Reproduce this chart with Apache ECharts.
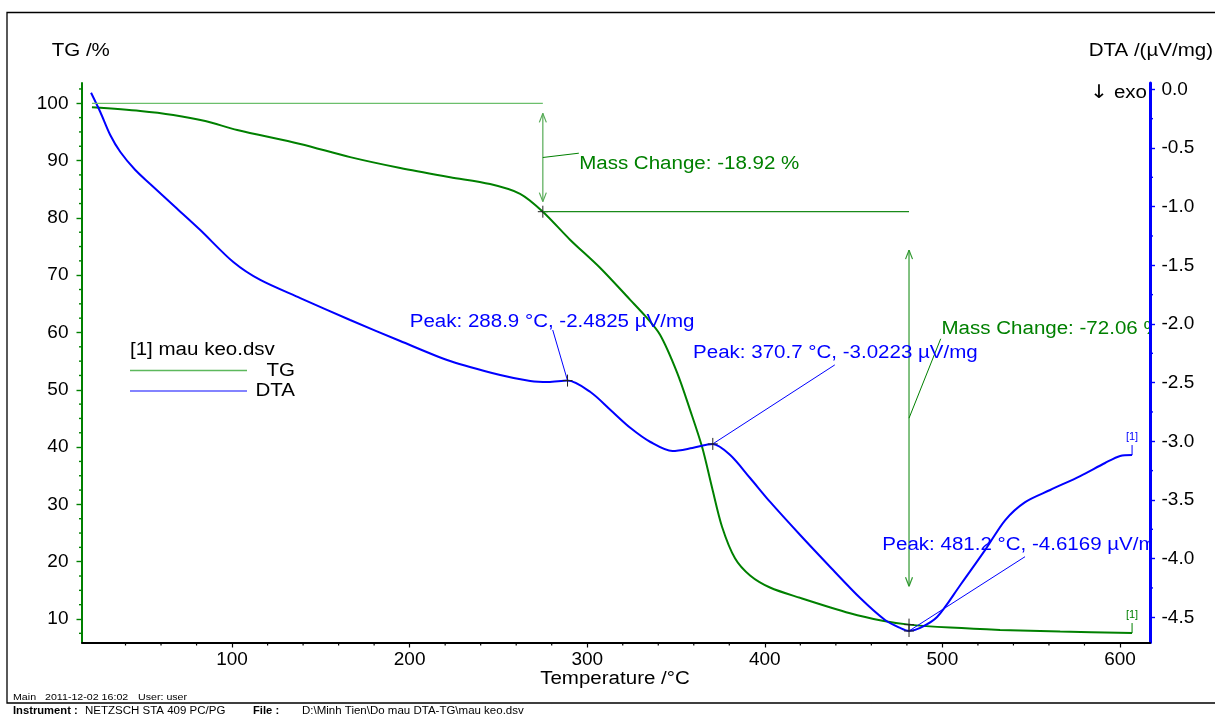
<!DOCTYPE html>
<html>
<head>
<meta charset="utf-8">
<script src="https://cdn.jsdelivr.net/npm/echarts@6/dist/echarts.min.js"></script>
<style>
  html, body { margin: 0; padding: 0; background: #fff; }
  #chart { width: 1215px; height: 715px; }
</style>
</head>
<body>
<div id="chart"></div>
<script>
// ---- Measurement: NETZSCH STA 409, sample "mau keo" ----

// Temperature axis (°C)
const tempTicks = [100, 200, 300, 400, 500, 600];
// TG axis (%)
const tgTicks = [10, 20, 30, 40, 50, 60, 70, 80, 90, 100];
// DTA axis (µV/mg)
const dtaTicks = [0.0, -0.5, -1.0, -1.5, -2.0, -2.5, -3.0, -3.5, -4.0, -4.5];

// TG curve: temperature (°C) and residual mass (%)
const tgTemp = [21.1, 48.3, 66.9, 84.9, 102.9, 138.4, 166.5, 194.7, 222.8, 245.3, 262.2, 275.0,
                290.3, 307.2, 324.2, 332.6, 341.0, 350.6, 357.9, 364.7, 370.3, 375.9, 383.2,
                391.7, 402.9, 419.8, 448.0, 466.3, 481.2, 504.4, 532.5, 566.3, 606.8];
const tgMass = [99.30, 98.66, 97.96, 96.90, 95.34, 92.90, 90.60, 88.70, 87.10, 85.90, 84.20, 81.08,
                76.20, 71.30, 65.70, 62.90, 59.60, 53.00, 46.50, 40.00, 32.90, 26.10, 20.60,
                17.60, 15.50, 13.70, 11.00, 9.70, 9.02, 8.50, 8.10, 7.80, 7.55];

// DTA curve: temperature (°C) and signal (µV/mg)
const dtaTemp = [20.6, 25.8, 31.4, 37.1, 45.5, 53.9, 68.0, 82.1, 100.7, 115.9, 138.4, 166.5,
                 194.7, 222.8, 251.0, 267.9, 278.0, 288.9, 301.8, 313.1, 324.4, 335.6, 348.0,
                 359.2, 370.7, 380.5, 391.7, 403.0, 419.9, 436.8, 453.7, 467.7, 476.2, 481.2,
                 487.5, 497.0, 510.1, 524.1, 535.4, 546.6, 560.7, 577.6, 591.6, 600.1, 606.8];
const dtaSignal = [-0.029, -0.193, -0.389, -0.534, -0.688, -0.807, -1.003, -1.199, -1.472, -1.625,
                   -1.779, -1.966, -2.145, -2.316, -2.435, -2.486, -2.495, -2.4825, -2.580, -2.733,
                   -2.887, -3.006, -3.083, -3.057, -3.0223, -3.117, -3.313, -3.517, -3.799, -4.071,
                   -4.336, -4.523, -4.591, -4.6169, -4.591, -4.498, -4.225, -3.926, -3.671, -3.518,
                   -3.415, -3.296, -3.185, -3.125, -3.117];

// DTA peak evaluations
const peakTemp = [288.9, 370.7, 481.2];
const peakSignal = [-2.4825, -3.0223, -4.6169];

// TG mass-change steps
const massStartLevel = 100.0;
const stepTemp = [275.0, 481.2];
const stepChange = [-18.92, -72.06];

// ---- styling / layout ----
const GREEN = '#008000';
const BLUE = '#0000ff';
const FONT = 'Liberation Sans, Arial, sans-serif';
const STRETCH = 1.14;

// label placement relative to the annotated point (px)
const peakLayout = [
  { leader: [-14.8, -50.6], label: [-157.8, -58.1] },
  { leader: [122, -79], label: [-19.7, -90.6] },
  { leader: [116, -74.3], label: [-26.7, -86] }
];
const stepLayout = [
  { leader: [36, -4.3], label: [36.3, 6.6], arrow: '#55aa55', levelLine: '#6cbf6c' },
  { leader: [31.7, -79.4], label: [32.5, -89.6], arrow: '#2f982f', levelLine: '#1a8a1a' }
];

function minorTicks(from, to, step, majorEvery) {
  const out = [];
  for (let k = Math.ceil(from / step); k * step <= to; k++) {
    if (k % majorEvery !== 0) out.push(+(k * step).toFixed(4));
  }
  return out;
}
const tempMinor = minorTicks(40, 600, 20, 5);
const tgMinor = minorTicks(6, 103, 2.5, 4);
const dtaMinor = minorTicks(-4.7, 0, 0.25, 2);

const X_MIN = 15.5, X_MAX = 616.9;
const TG_MIN = 5.9, TG_MAX = 103.54;
const DTA_MIN = -4.715, DTA_MAX = 0.054;

function seg(x1, y1, x2, y2, color, w) {
  return { type: 'line', shape: { x1, y1, x2, y2 }, style: { stroke: color, lineWidth: w || 1 } };
}
function cross(p) {
  return [seg(p[0] - 5, p[1], p[0] + 5, p[1], '#222', 1), seg(p[0], p[1] - 6, p[0], p[1] + 6, '#222', 1)];
}
function txt(x, y, text, color, size, align, stretch) {
  return {
    type: 'text', x, y, scaleX: stretch ? STRETCH : 1,
    style: { text, fill: color, fontSize: size, fontFamily: FONT, align: align || 'left', verticalAlign: 'middle' }
  };
}
function endMarker(p, color) {
  return [seg(p[0], p[1], p[0], p[1] - 10, color, 1), txt(p[0], p[1] - 18, '[1]', color, 11, 'center', false)];
}

function renderMassSteps(params, api) {
  const children = [];
  let level = massStartLevel;
  let prevT = tgTemp[0];
  stepTemp.forEach((t, i) => {
    const next = level + stepChange[i];
    const lay = stepLayout[i];
    const pStart = api.coord([prevT, level]);
    const pTop = api.coord([t, level]);
    const pBot = api.coord([t, next]);
    children.push(seg(pStart[0], pTop[1], pTop[0], pTop[1], lay.levelLine, 1.2));
    const inset = 0.093 * (pBot[1] - pTop[1]);
    const yA = pTop[1] + inset, yB = pBot[1] - inset, x = pTop[0];
    children.push(seg(x, yA, x, yB, lay.arrow, 1.2));
    children.push(seg(x, yA, x - 3.5, yA + 9, lay.arrow, 1.2), seg(x, yA, x + 3.5, yA + 9, lay.arrow, 1.2));
    children.push(seg(x, yB, x - 3.5, yB - 9, lay.arrow, 1.2), seg(x, yB, x + 3.5, yB - 9, lay.arrow, 1.2));
    const midY = (pTop[1] + pBot[1]) / 2;
    children.push(seg(x, midY, x + lay.leader[0], midY + lay.leader[1], GREEN, 1));
    children.push(txt(x + lay.label[0], midY + lay.label[1],
      'Mass Change: ' + stepChange[i].toFixed(2) + ' %', GREEN, 18, 'left', true));
    children.push(...cross(pBot));
    level = next;
    prevT = t;
  });
  const last = tgTemp.length - 1;
  children.push(...endMarker(api.coord([tgTemp[last], tgMass[last]]), GREEN));
  return { type: 'group', children };
}

function renderPeaks(params, api) {
  const children = [];
  peakTemp.forEach((t, i) => {
    const p = api.coord([t, peakSignal[i]]);
    const lay = peakLayout[i];
    children.push(seg(p[0], p[1], p[0] + lay.leader[0], p[1] + lay.leader[1], BLUE, 1));
    children.push(...cross(p));
    children.push(txt(p[0] + lay.label[0], p[1] + lay.label[1],
      'Peak: ' + t.toFixed(1) + ' °C, ' + peakSignal[i].toFixed(4) + ' µV/mg', BLUE, 18, 'left', true));
  });
  const last = dtaTemp.length - 1;
  children.push(...endMarker(api.coord([dtaTemp[last], dtaSignal[last]]), BLUE));
  return { type: 'group', children };
}

// minor ticks on the three axes, placed through the axis scales
function renderMinorTicks(params, api) {
  const children = [];
  const yBottom = api.coord([X_MIN, TG_MIN])[1];
  const xLeft = api.coord([X_MIN, TG_MIN])[0];
  tempMinor.forEach(t => {
    const x = api.coord([t, TG_MIN])[0];
    children.push(seg(x, yBottom, x, yBottom + 3, '#000', 1.2));
  });
  tgMinor.forEach(v => {
    const y = api.coord([X_MIN, v])[1];
    children.push(seg(xLeft - 3, y, xLeft, y, GREEN, 1.4));
  });
  return { type: 'group', children };
}
function renderMinorTicksRight(params, api) {
  const xRight = api.coord([X_MAX, 0])[0];
  return {
    type: 'group',
    children: dtaMinor.map(v => {
      const y = api.coord([X_MAX, v])[1];
      return seg(xRight, y, xRight + 3, y, BLUE, 1.4);
    })
  };
}

const labelFont = { fontSize: 19, fontFamily: FONT, color: '#000' };

function footer(x, y, text, bold, size, stretch) {
  return {
    type: 'text', x, y, scaleX: stretch,
    style: { text, fill: '#000', fontSize: size, fontWeight: bold ? 'bold' : 'normal', fontFamily: FONT, verticalAlign: 'middle' }
  };
}

const option = {
  animation: false,
  backgroundColor: '#fff',
  grid: { left: 82, top: 83, width: 1068, height: 559.5, containLabel: false, outerBoundsMode: 'none' },
  xAxis: {
    type: 'value', min: X_MIN, max: X_MAX, position: 'bottom', z: 5,
    axisLine: { show: true, onZero: false, lineStyle: { color: '#000', width: 2 } },
    axisTick: { show: true, customValues: tempTicks, length: 5, lineStyle: { color: '#000', width: 1.2 } },
    axisLabel: Object.assign({ customValues: tempTicks, margin: 8 }, labelFont),
    splitLine: { show: false }
  },
  yAxis: [
    {
      type: 'value', min: TG_MIN, max: TG_MAX, position: 'left', z: 5,
      axisLine: { show: true, onZero: false, lineStyle: { color: GREEN, width: 2 } },
      axisTick: { show: true, customValues: tgTicks, length: 5.5, lineStyle: { color: GREEN, width: 1.4 } },
      axisLabel: Object.assign({ customValues: tgTicks, margin: 13.5 }, labelFont),
      splitLine: { show: false }
    },
    {
      type: 'value', min: DTA_MIN, max: DTA_MAX, position: 'right', z: 5,
      axisLine: { show: true, onZero: false, lineStyle: { color: BLUE, width: 3 } },
      axisTick: { show: true, customValues: dtaTicks, length: 5, lineStyle: { color: BLUE, width: 1.4 } },
      axisLabel: Object.assign({ customValues: dtaTicks, margin: 11.5, formatter: v => (+v).toFixed(1) }, labelFont),
      splitLine: { show: false }
    }
  ],
  series: [
    {
      name: 'TG', type: 'line', xAxisIndex: 0, yAxisIndex: 0,
      data: tgTemp.map((t, i) => [t, tgMass[i]]),
      showSymbol: false, smooth: 0.3,
      lineStyle: { color: GREEN, width: 2 }, z: 3
    },
    {
      name: 'DTA', type: 'line', xAxisIndex: 0, yAxisIndex: 1,
      data: dtaTemp.map((t, i) => [t, dtaSignal[i]]),
      showSymbol: false, smooth: 0.3,
      lineStyle: { color: BLUE, width: 2 }, z: 3
    },
    {
      type: 'custom', xAxisIndex: 0, yAxisIndex: 0, clip: true, z: 4,
      data: [[tgTemp[0], tgMass[0]]],
      renderItem: renderMassSteps, silent: true
    },
    {
      type: 'custom', xAxisIndex: 0, yAxisIndex: 1, clip: true, z: 4,
      data: [[dtaTemp[0], dtaSignal[0]]],
      renderItem: renderPeaks, silent: true
    },
    {
      type: 'custom', xAxisIndex: 0, yAxisIndex: 0, clip: false, z: 6,
      data: [[X_MIN, TG_MIN]],
      renderItem: renderMinorTicks, silent: true
    },
    {
      type: 'custom', xAxisIndex: 0, yAxisIndex: 1, clip: false, z: 6,
      data: [[X_MAX, DTA_MIN]],
      renderItem: renderMinorTicksRight, silent: true
    }
  ],
  graphic: {
    elements: [
      { type: 'rect', z: -10, shape: { x: 7, y: 12.5, width: 1240, height: 690.5 },
        style: { fill: 'none', stroke: '#000', lineWidth: 1.3 } },
      // axis titles
      { type: 'text', x: 51.7, y: 51, scaleX: STRETCH,
        style: { text: 'TG /%', fill: '#000', fontSize: 18, fontFamily: FONT, verticalAlign: 'middle' } },
      { type: 'text', x: 1213, y: 51, scaleX: STRETCH,
        style: { text: 'DTA /(µV/mg)', fill: '#000', fontSize: 18, fontFamily: FONT, align: 'right', verticalAlign: 'middle' } },
      { type: 'text', x: 1147, y: 93, scaleX: STRETCH,
        style: {
          text: '{a|↓} exo', fill: '#000', fontSize: 18, fontFamily: FONT, align: 'right', verticalAlign: 'middle',
          rich: { a: { fontFamily: 'DejaVu Sans', fontSize: 19, fill: '#000' } }
        } },
      { type: 'text', x: 615, y: 679, scaleX: STRETCH,
        style: { text: 'Temperature /°C', fill: '#000', fontSize: 18, fontFamily: FONT, align: 'center', verticalAlign: 'middle' } },
      // legend
      { type: 'text', x: 130, y: 350, scaleX: STRETCH,
        style: { text: '[1] mau keo.dsv', fill: '#000', fontSize: 18, fontFamily: FONT, verticalAlign: 'middle' } },
      { type: 'line', shape: { x1: 130, y1: 370.5, x2: 247, y2: 370.5 }, style: { stroke: '#5cb85c', lineWidth: 1.3 } },
      { type: 'text', x: 295, y: 371.5, scaleX: STRETCH,
        style: { text: 'TG', fill: '#000', fontSize: 18, fontFamily: FONT, align: 'right', verticalAlign: 'middle' } },
      { type: 'line', shape: { x1: 130, y1: 391, x2: 247, y2: 391 }, style: { stroke: '#5a5aff', lineWidth: 1.3 } },
      { type: 'text', x: 295, y: 391.5, scaleX: STRETCH,
        style: { text: 'DTA', fill: '#000', fontSize: 18, fontFamily: FONT, align: 'right', verticalAlign: 'middle' } },
      // footer
      footer(13, 697.5, 'Main', false, 9.5, 1.12),
      footer(45, 697.5, '2011-12-02 16:02', false, 9.5, 1.12),
      footer(138, 697.5, 'User: user', false, 9.5, 1.12),
      footer(13, 711.5, 'Instrument :', true, 10, 1.12),
      footer(85, 711.5, 'NETZSCH STA 409 PC/PG', false, 10, 1.15),
      footer(253, 711.5, 'File :', true, 10, 1.12),
      footer(302, 711.5, 'D:\\Minh Tien\\Do mau DTA-TG\\mau keo.dsv', false, 10, 1.15)
    ]
  }
};

const chart = echarts.init(document.getElementById('chart'), null, { renderer: 'canvas' });
chart.setOption(option);
</script>
</body>
</html>
